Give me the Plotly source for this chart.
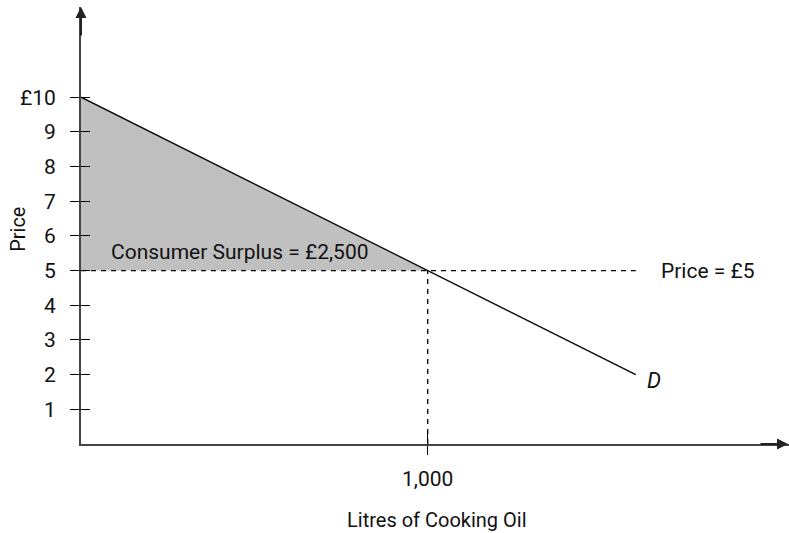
import plotly.graph_objects as go

# Demand curve end points (quantity, price)
demand_qty = [0, 1600]
demand_price = [10, 2]

# Market equilibrium
market_price = 5
market_qty = 1000

# Axis ticks
y_tick_vals = [1, 2, 3, 4, 5, 6, 7, 8, 9, 10]
y_tick_text = ["1", "2", "3", "4", "5", "6", "7", "8", "9", "£10"]
x_tick_vals = [1000]
x_tick_text = ["1,000"]

x_max = 2042
y_max = 12.6

FONT = "Roboto, Liberation Sans, Arial, sans-serif"
INK = "#111111"
AXIS = "#444444"

fig = go.Figure()

# Consumer surplus triangle
fig.add_trace(go.Scatter(
    x=[demand_qty[0], market_qty, demand_qty[0], demand_qty[0]],
    y=[demand_price[0], market_price, market_price, demand_price[0]],
    fill="toself", fillcolor="#c0c0c0", line=dict(width=0),
    mode="lines", hoverinfo="skip", showlegend=False,
))

# Dashed guides at the market price and quantity
fig.add_trace(go.Scatter(
    x=[0, demand_qty[1]], y=[market_price, market_price],
    mode="lines", line=dict(color="black", width=1.3, dash="5px,5px"),
    showlegend=False, hoverinfo="skip",
))
fig.add_trace(go.Scatter(
    x=[market_qty, market_qty], y=[0, market_price],
    mode="lines", line=dict(color="black", width=1.3, dash="5px,5px"),
    showlegend=False, hoverinfo="skip",
))

# Demand curve
fig.add_trace(go.Scatter(
    x=demand_qty, y=demand_price,
    mode="lines", line=dict(color="black", width=1.3),
    showlegend=False, hoverinfo="skip",
))

# Invisible trace to carry the inside-tick overlay axes
fig.add_trace(go.Scatter(
    x=[0], y=[0], xaxis="x2", yaxis="y2", mode="markers",
    marker=dict(opacity=0), showlegend=False, hoverinfo="skip",
))

tick_font = dict(family=FONT, size=21, color=INK)

fig.update_layout(
    width=789, height=533,
    margin=dict(l=81, r=0, t=7, b=89),
    paper_bgcolor="white", plot_bgcolor="white",
    font=dict(family=FONT, color=INK),
    xaxis=dict(
        range=[0, x_max], showgrid=False, zeroline=False,
        showline=True, linecolor=AXIS, linewidth=2,
        tickvals=x_tick_vals, ticktext=x_tick_text,
        ticks="outside", ticklen=9, tickwidth=1.2, tickcolor="black",
        tickfont=tick_font, ticklabelstandoff=6,
    ),
    yaxis=dict(
        range=[0, y_max], showgrid=False, zeroline=False,
        showline=True, linecolor=AXIS, linewidth=2,
        tickvals=y_tick_vals, ticktext=y_tick_text,
        ticks="outside", ticklen=9, tickwidth=1.2, tickcolor="black",
        tickfont=tick_font, ticklabelstandoff=10,
    ),
    xaxis2=dict(
        overlaying="x", range=[0, x_max], showgrid=False, zeroline=False,
        showline=False, tickvals=x_tick_vals, showticklabels=False,
        ticks="inside", ticklen=11, tickwidth=1.2, tickcolor="black",
    ),
    yaxis2=dict(
        overlaying="y", range=[0, y_max], showgrid=False, zeroline=False,
        showline=False, tickvals=y_tick_vals, showticklabels=False,
        ticks="inside", ticklen=9, tickwidth=1.2, tickcolor="black",
    ),
)

annotations = [
    # axis arrowheads
    dict(x=1, y=0, xref="paper", yref="paper", ax=-30, ay=0, text="",
         showarrow=True, arrowhead=2, arrowsize=1.1, arrowwidth=2, arrowcolor="#222"),
    dict(x=0, y=1, xref="paper", yref="paper", ax=0, ay=30, text="",
         showarrow=True, arrowhead=2, arrowsize=1.1, arrowwidth=2, arrowcolor="#222"),
    # axis titles
    dict(x=0.5, y=0, xref="paper", yref="paper", yshift=-76, xshift=2,
         text="Litres of Cooking Oil", showarrow=False,
         font=dict(family=FONT, size=20, color=INK), yanchor="middle"),
    dict(x=0, y=0.49, xref="paper", yref="paper", xshift=-63,
         text="Price", textangle=-90, showarrow=False,
         font=dict(family=FONT, size=20, color=INK), xanchor="center"),
    # chart labels
    dict(x=80, y=5.55, xref="x", yref="y", text="Consumer Surplus = £2,500",
         showarrow=False, xanchor="left", yanchor="middle",
         font=dict(family=FONT, size=21, color=INK)),
    dict(x=1667, y=market_price, xref="x", yref="y", text="Price = £5",
         showarrow=False, xanchor="left", yanchor="middle",
         font=dict(family=FONT, size=21, color=INK)),
    dict(x=1628, y=1.83, xref="x", yref="y", text="<i>D</i>",
         showarrow=False, xanchor="left", yanchor="middle",
         font=dict(family=FONT, size=22, color=INK)),
]
fig.update_layout(annotations=annotations)

fig.write_html("out.html")
